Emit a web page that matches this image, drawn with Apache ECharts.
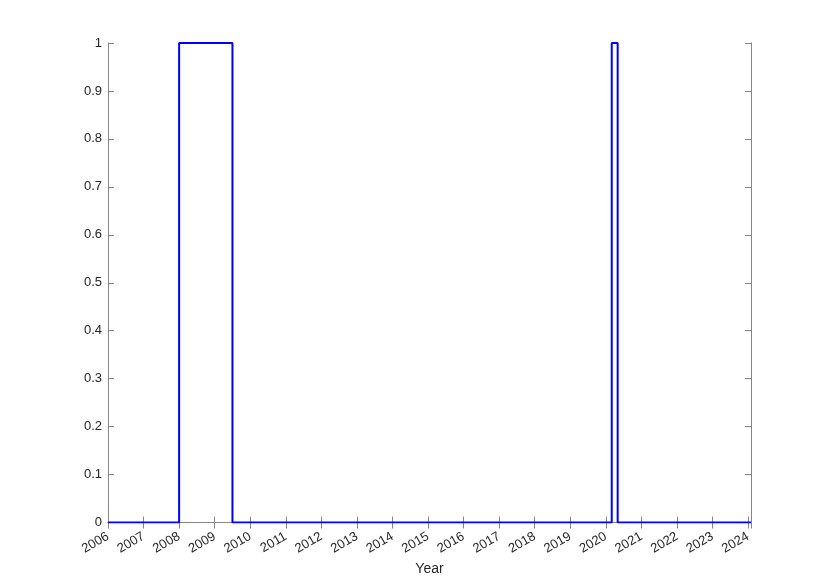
<!DOCTYPE html>
<html>
<head>
<meta charset="utf-8">
<script src="https://cdn.jsdelivr.net/npm/echarts@6/dist/echarts.min.js"></script>
<style>
  html, body { margin: 0; padding: 0; background: #fff; }
  #main { width: 830px; height: 587px; }
</style>
</head>
<body>
<div id="main"></div>
<script>
// months where the indicator changes (stairs: value holds until next date)
const changeDates = ['2006-01', '2008-01', '2009-07', '2020-03', '2020-05', '2024-02'];
const changeValues = [0, 1, 0, 1, 0, 0];

function toYear(s) {
  const [y, m] = s.split('-').map(Number);
  return y + (m - 1) / 12;
}
const points = changeDates.map((d, i) => [toYear(d), changeValues[i]]);
const xMin = toYear(changeDates[0]);
const xMax = toYear(changeDates[changeDates.length - 1]);

const axisColor = '#262626';
const boxColor = '#858585';
const font = 'Liberation Sans, Arial, Helvetica, sans-serif';

let chart = echarts.init(document.getElementById('main'));
chart.setOption({
  animation: false,
  grid: { left: 108, right: 79, top: 43, bottom: 64.5, containLabel: false },
  xAxis: [{
    type: 'value', min: xMin, max: xMax, interval: 1,
    position: 'bottom',
    name: 'Year', nameLocation: 'middle', nameGap: 38,
    nameTextStyle: { color: axisColor, fontSize: 14, fontFamily: font },
    axisLine: { lineStyle: { color: boxColor, width: 1 } },
    axisTick: { inside: true, length: 6, lineStyle: { color: boxColor } },
    splitLine: { show: false },
    axisLabel: {
      rotate: 30, color: axisColor, fontSize: 13, fontFamily: font, margin: 13,
      showMaxLabel: false,
      formatter: v => (Math.abs(v - Math.round(v)) < 1e-6 ? String(Math.round(v)) : '')
    }
  }, {
    type: 'value', min: xMin, max: xMax, interval: 1,
    position: 'top',
    axisLine: { lineStyle: { color: boxColor, width: 1 } },
    axisTick: { inside: true, length: 6, lineStyle: { color: boxColor } },
    splitLine: { show: false },
    axisLabel: { show: false }
  }],
  yAxis: [{
    type: 'value', min: 0, max: 1, interval: 0.1,
    position: 'left',
    axisLine: { show: true, lineStyle: { color: boxColor, width: 1 } },
    axisTick: { show: true, inside: true, length: 6, lineStyle: { color: boxColor } },
    splitLine: { show: false },
    axisLabel: {
      color: axisColor, fontSize: 13, fontFamily: font, margin: 6,
      formatter: v => String(Math.round(v * 10) / 10)
    }
  }, {
    type: 'value', min: 0, max: 1, interval: 0.1,
    position: 'right',
    axisLine: { show: true, lineStyle: { color: boxColor, width: 1 } },
    axisTick: { show: true, inside: true, length: 6, lineStyle: { color: boxColor } },
    splitLine: { show: false },
    axisLabel: { show: false }
  }],
  series: [{
    type: 'line',
    step: 'end',
    data: points,
    symbol: 'none',
    lineStyle: { color: '#0000ff', width: 2 },
    z: 3
  }]
});
</script>
</body>
</html>
